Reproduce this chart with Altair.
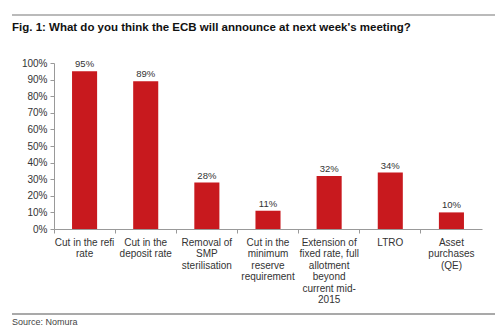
import altair as alt
import pandas as pd

categories = [
    "Cut in the refi|rate",
    "Cut in the|deposit rate",
    "Removal of|SMP|sterilisation",
    "Cut in the|minimum|reserve|requirement",
    "Extension of|fixed rate, full|allotment|beyond|current mid-|2015",
    "LTRO",
    "Asset|purchases|(QE)",
]
values = [0.95, 0.89, 0.28, 0.11, 0.32, 0.34, 0.10]
value_labels = ["95%", "89%", "28%", "11%", "32%", "34%", "10%"]
y_ticks = [0.0, 0.1, 0.2, 0.3, 0.4, 0.5, 0.6, 0.7, 0.8, 0.9, 1.0]

df = pd.DataFrame({"cat": categories, "val": values, "lab": value_labels})

FONT = "Liberation Sans"
W, H = 428, 166

x = alt.X("cat:N", sort=categories, title=None,
          scale=alt.Scale(paddingInner=0, paddingOuter=0),
          axis=alt.Axis(labelAngle=0, labelExpr="split(datum.label, '|')",
                        labelFont=FONT, labelFontSize=10, labelColor="#333",
                        labelLineHeight=11.5, labelPadding=4,
                        domainColor="#999", tickColor="#999", tickSize=4,
                        ticks=True, bandPosition=0, labelBaseline="top"))
y = alt.Y("val:Q", title=None,
          scale=alt.Scale(domain=[0, 1]),
          axis=alt.Axis(format=".0%", values=y_ticks, labelOverlap=False,
                        labelFont=FONT, labelFontSize=10, labelColor="#333",
                        domainColor="#999", tickColor="#999", tickSize=4,
                        grid=False, labelPadding=3))

base = alt.Chart(df).encode(x=x, y=y)
bars = base.mark_bar(color="#C8191E", width=alt.RelativeBandSize(0.41))
texts = base.mark_text(dy=-7, font=FONT, fontSize=9.5, color="#333").encode(text="lab:N")

title = alt.Chart(pd.DataFrame({"t": ["Fig. 1: What do you think the ECB will announce at next week's meeting?"]})).mark_text(
    align="left", baseline="middle", font=FONT, fontSize=11.5, fontWeight="bold", color="#111"
).encode(x=alt.value(-42), y=alt.value(-35), text="t:N")

source = alt.Chart(pd.DataFrame({"t": ["Source: Nomura"]})).mark_text(
    align="left", baseline="middle", font=FONT, fontSize=9, color="#444"
).encode(x=alt.value(-42), y=alt.value(259), text="t:N")

top_line = alt.Chart(pd.DataFrame({"a": [0]})).mark_rule(color="#777", strokeWidth=1.2).encode(
    x=alt.value(-42), x2=alt.value(441), y=alt.value(-48))
bot_line = alt.Chart(pd.DataFrame({"a": [0]})).mark_rule(color="#555", strokeWidth=1.2).encode(
    x=alt.value(-42), x2=alt.value(441), y=alt.value(251))

chart = alt.layer(bars, texts, title, source, top_line, bot_line).properties(
    width=W, height=H,
    background="white",
    autosize=alt.AutoSizeParams(type="none"),
    padding={"left": 54, "top": 63, "right": 18, "bottom": 100},
).configure_view(stroke=None)

chart.save("out.html", embed_options={"renderer": "svg", "actions": False})
